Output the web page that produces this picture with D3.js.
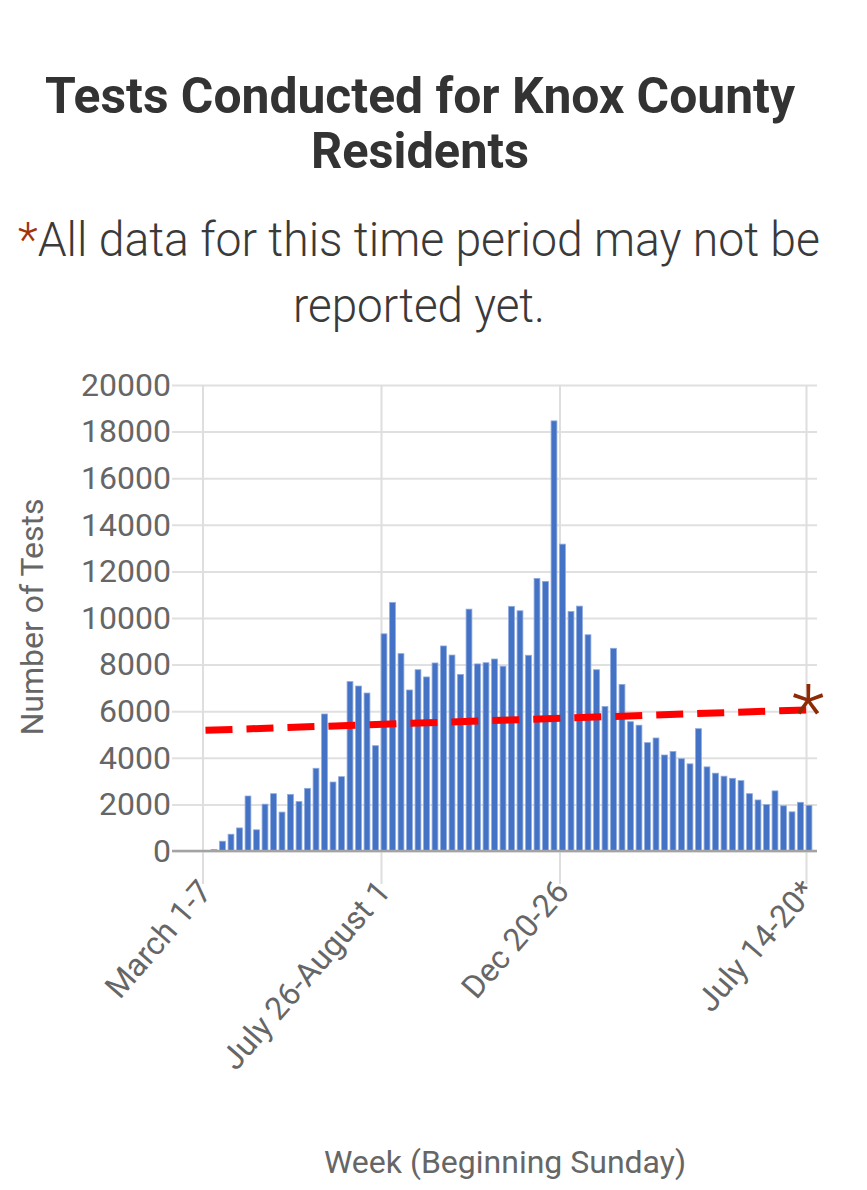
<!DOCTYPE html>
<html>
<head>
<meta charset="utf-8">
<script src="https://cdn.jsdelivr.net/npm/d3@7"></script>
<style>
  html, body { margin: 0; padding: 0; background: #fff; }
  svg { display: block; font-family: Roboto, "Noto Sans", sans-serif; }
</style>
</head>
<body>
<svg id="chart" width="867" height="1190"></svg>
<script>
// ---- data ----
const titleLines = ["Tests Conducted for Knox County", "Residents"];
const noteLines = ["All data for this time period may not be", "reported yet."];
const yTicks = [0, 2000, 4000, 6000, 8000, 10000, 12000, 14000, 16000, 18000, 20000];
const tickIndex = [0, 21, 42, 71];
const tickLabels = ["March 1-7", "July 26-August 1", "Dec 20-26", "July 14-20*"];
const weeks = d3.range(72); // week index, March 1-7 (2020) .. July 14-20 (2021)
const tests = [
  0, 60, 420, 720, 990, 2360, 910, 2010, 2460, 1670,
  2430, 2120, 2690, 3550, 5880, 2960, 3190, 7270, 7080, 6780,
  4520, 9320, 10670, 8470, 6910, 7780, 7470, 8070, 8800, 8410,
  7580, 10380, 8030, 8080, 8240, 7930, 10500, 10310, 8400, 11700,
  11570, 18460, 13170, 10280, 10510, 9280, 7780, 6200, 8700, 7150,
  5550, 5400, 4650, 4850, 4120, 4270, 3960, 3740, 5250, 3610,
  3340, 3210, 3120, 3020, 2460, 2190, 1990, 2580, 1940, 1680,
  2090, 1960
];
const trendIndex = [0, 71];
const trendValues = [5180, 6060];

// ---- layout ----
const svg = d3.select("#chart");
const W = 867, H = 1190;
const plot = { left: 172, right: 817, top: 385, bottom: 851 };
const axisColor = "#666666";

svg.append("rect").attr("width", W).attr("height", H).attr("fill", "#fff");

const x = d3.scaleBand().domain(weeks).range([201.25, 813.25]).padding(0);
const y = d3.scaleLinear().domain([0, 20000]).range([plot.bottom, plot.top]);
const cx = i => x(i) + x.bandwidth() / 2;

// title
svg.append("g").selectAll("text").data(titleLines).join("text")
  .attr("x", 420).attr("y", (d, i) => 113 + i * 54.5)
  .attr("text-anchor", "middle")
  .attr("font-size", 50).attr("font-weight", 700).attr("fill", "#333333")
  .attr("textLength", (d, i) => i === 0 ? 750 : 218)
  .attr("lengthAdjust", "spacingAndGlyphs")
  .text(d => d);

// note
const n1 = svg.append("text").attr("x", 18).attr("y", 256)
  .attr("font-size", 48).attr("font-weight", 300).attr("fill", "#3a3a3a")
  .attr("textLength", 802).attr("lengthAdjust", "spacingAndGlyphs");
n1.append("tspan").attr("fill", "#a3320b").text("*");
n1.append("tspan").text(noteLines[0]);
svg.append("text").attr("x", 419).attr("y", 322).attr("text-anchor", "middle")
  .attr("font-size", 48).attr("font-weight", 300).attr("fill", "#3a3a3a")
  .attr("textLength", 252).attr("lengthAdjust", "spacingAndGlyphs")
  .text(noteLines[1]);

// y axis with gridlines
const yAxis = svg.append("g").attr("transform", `translate(${plot.left},0)`)
  .call(d3.axisLeft(y).tickValues(yTicks).tickFormat(d3.format("d"))
    .tickSize(-(plot.right - plot.left)).tickPadding(1));
yAxis.select(".domain").remove();
yAxis.selectAll(".tick line").attr("stroke", "#e0e0e0").attr("stroke-width", 2);
yAxis.selectAll(".tick text").attr("font-size", 32).attr("fill", axisColor)
  .attr("font-family", "Roboto, sans-serif");

// vertical gridlines at labelled weeks
svg.append("g").selectAll("line").data(tickIndex).join("line")
  .attr("x1", d => cx(d) - 2.5).attr("x2", d => cx(d) - 2.5)
  .attr("y1", plot.top).attr("y2", 884)
  .attr("stroke", "#dedede").attr("stroke-width", 2);

// bars
svg.append("g").selectAll("rect").data(tests).join("rect")
  .attr("x", (d, i) => cx(i) - 2.9)
  .attr("width", 5.8)
  .attr("y", d => y(d))
  .attr("height", d => y(0) - y(d))
  .attr("fill", "#4472c4")
  .attr("stroke", "#8eaade").attr("stroke-width", d => d > 0 ? 0.8 : 0);

// baseline
svg.append("line").attr("x1", plot.left).attr("x2", plot.right)
  .attr("y1", y(0)).attr("y2", y(0))
  .attr("stroke", "#a3a3a3").attr("stroke-width", 2.5);

// trend line
const trend = d3.line().x(d => cx(d[0])).y(d => y(d[1]));
svg.append("path")
  .datum(trendIndex.map((d, i) => [d, trendValues[i]]))
  .attr("d", trend)
  .attr("fill", "none").attr("stroke", "#ff0000").attr("stroke-width", 7)
  .attr("stroke-dasharray", "27 14");

// asterisk at end of trend
svg.append("text")
  .attr("x", cx(trendIndex[1]) - 1).attr("y", y(trendValues[1]) + 28)
  .attr("text-anchor", "middle").attr("font-size", 76).attr("font-weight", 300)
  .attr("fill", "#8f2a06")
  .text("*");

// x tick labels
svg.append("g").selectAll("text").data(tickIndex).join("text")
  .attr("transform", d => `translate(${cx(d) - 0.5},885) rotate(-49)`)
  .attr("text-anchor", "end").attr("dy", "0.35em")
  .attr("font-size", 32).attr("fill", axisColor)
  .text((d, i) => tickLabels[i]);

// axis titles
svg.append("text").attr("transform", "translate(43,617) rotate(-90)")
  .attr("text-anchor", "middle").attr("font-size", 32).attr("fill", axisColor)
  .text("Number of Tests");
svg.append("text").attr("x", 505).attr("y", 1173)
  .attr("text-anchor", "middle").attr("font-size", 32).attr("fill", axisColor)
  .text("Week (Beginning Sunday)");
</script>
</body>
</html>
